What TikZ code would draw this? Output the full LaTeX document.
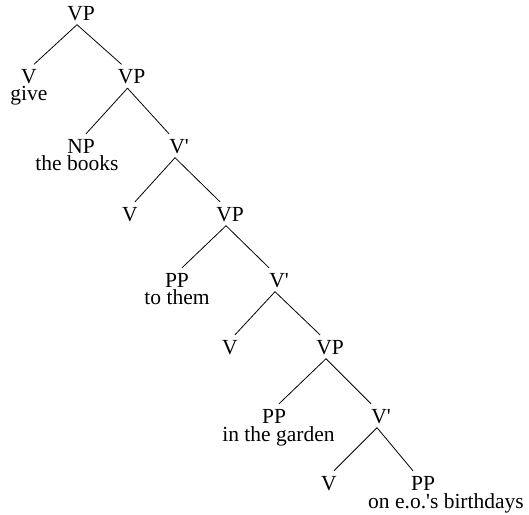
\documentclass[tikz,border=0pt]{standalone}
\usepackage{fontspec}
\newfontfamily\treefont{Liberation Serif}
\begin{document}
\begin{tikzpicture}[x=1pt,y=-1pt,
  cat/.style={font=\treefont\fontsize{21.5}{21.5}\selectfont, inner sep=0pt, anchor=base, text height=19pt, text depth=0pt},
  word/.style={font=\treefont\fontsize{21.5}{21.5}\selectfont, inner sep=0pt, anchor=base},
  edge/.style={line width=0.8pt, black}]
\useasboundingbox (0,0) rectangle (529,514);
\node[cat] (vp1) at (81,20) {VP};
\node[cat] (v2) at (29,83.5) {V};
\node[word] (w2) at (29,100) {give};
\node[cat] (vp2) at (131.5,83.5) {VP};
\node[cat] (np3) at (81,153) {NP};
\node[word] (w3) at (77,170) {the books};
\node[cat] (vb3) at (179,153) {V'};
\node[cat] (v4) at (130,221) {V};
\node[cat] (vp4) at (230,221) {VP};
\node[cat] (pp5) at (177,287) {PP};
\node[word] (w5) at (177,304.5) {to them};
\node[cat] (vb5) at (279,287) {V'};
\node[cat] (v6) at (230,354) {V};
\node[cat] (vp6) at (330,354) {VP};
\node[cat] (pp7) at (274,423) {PP};
\node[word] (w7) at (278.5,441.5) {in the garden};
\node[cat] (vb7) at (381,423) {V'};
\node[cat] (v8) at (329,490) {V};
\node[cat] (pp8) at (423,490) {PP};
\node[word] (w8) at (446,508) {on e.o.'s birthdays};
\foreach \p/\l/\r in {vp1/v2/vp2, vp2/np3/vb3, vb3/v4/vp4, vp4/pp5/vb5, vb5/v6/vp6, vp6/pp7/vb7, vb7/v8/pp8}{
  \draw[edge] ([xshift=-4pt,yshift=-4.5pt]\p.south) -- ([xshift=5pt]\l.north);
  \draw[edge] ([xshift=-4pt,yshift=-4.5pt]\p.south) -- ([xshift=-10pt]\r.north);
}
\end{tikzpicture}
\end{document}
